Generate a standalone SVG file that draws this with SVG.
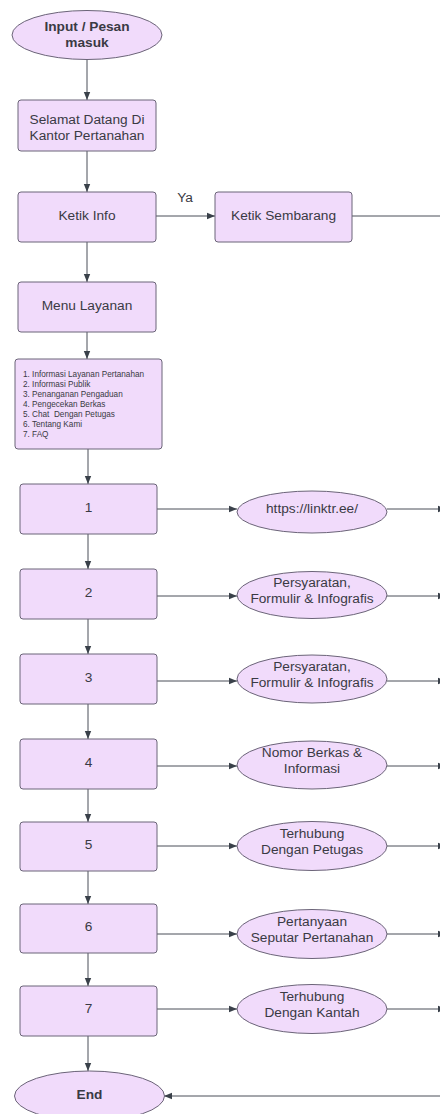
<svg xmlns="http://www.w3.org/2000/svg" width="440" height="1114" viewBox="0 0 440 1114">
<defs>
<marker id="ah" viewBox="0 0 10 10" refX="10" refY="5" markerWidth="8" markerHeight="8" markerUnits="userSpaceOnUse" orient="auto">
<path d="M0,1 L10,5 L0,9 Z" fill="#3a414a"/>
</marker>
<style>
.n{fill:#f1dbfb;stroke:#6b6478;stroke-width:1}
.t{font-family:"Liberation Sans",Arial,sans-serif;font-size:13.7px;fill:#3a3a44;text-anchor:middle}
.b{font-weight:bold}
.s{font-family:"Liberation Sans",Arial,sans-serif;font-size:8.2px;fill:#3a3a44}
.c{stroke:#4a4f58;stroke-width:1;fill:none}
.ca{marker-end:url(#ah)}
</style>
</defs>
<rect width="440" height="1114" fill="#ffffff"/>
<g id="connectors">
<path class="c ca" d="M87,59 V100"/>
<path class="c ca" d="M87,151 V192"/>
<path class="c ca" d="M156,216 H215"/>
<path class="c" d="M352,216 H440"/>
<path class="c ca" d="M87,242 V282"/>
<path class="c ca" d="M87,332 V359"/>
<path class="c ca" d="M88,449 V484"/>
<path class="c ca" d="M88,534 V569"/>
<path class="c ca" d="M88,619 V654"/>
<path class="c ca" d="M88,704 V739"/>
<path class="c ca" d="M88,789 V822"/>
<path class="c ca" d="M88,871 V904"/>
<path class="c ca" d="M88,953 V986"/>
<path class="c ca" d="M88,1036 V1071"/>
<path class="c ca" d="M157,509 H237"/>
<path class="c ca" d="M157,596 H237"/>
<path class="c ca" d="M157,681 H237"/>
<path class="c ca" d="M157,766 H237"/>
<path class="c ca" d="M157,846 H237"/>
<path class="c ca" d="M157,934 H237"/>
<path class="c ca" d="M157,1009 H237"/>
<path class="c ca" d="M387,509 H446"/>
<path class="c ca" d="M387,596 H446"/>
<path class="c ca" d="M387,681 H446"/>
<path class="c ca" d="M387,766 H446"/>
<path class="c ca" d="M387,846 H446"/>
<path class="c ca" d="M387,934 H446"/>
<path class="c ca" d="M387,1009 H446"/>
<path class="c ca" d="M440,1096 H164"/>
<text class="t" x="185" y="202">Ya</text>
</g>
<g id="start"><ellipse class="n" cx="87" cy="35" rx="75" ry="24.5"/>
<text class="t b" x="87" y="31">Input / Pesan</text><text class="t b" x="87" y="47">masuk</text></g>
<g id="welcome"><rect class="n" x="18" y="100" width="138" height="51" rx="3"/>
<text class="t" x="87" y="124">Selamat Datang Di</text><text class="t" x="87" y="140">Kantor Pertanahan</text></g>
<g id="ketik-info"><rect class="n" x="18" y="192" width="138" height="50" rx="3"/>
<text class="t" x="87" y="219.5">Ketik Info</text></g>
<g id="ketik-sembarang"><rect class="n" x="215" y="192" width="137" height="50" rx="3"/>
<text class="t" x="283.5" y="219.5">Ketik Sembarang</text></g>
<g id="menu"><rect class="n" x="18" y="282" width="138" height="50" rx="3"/>
<text class="t" x="87" y="310">Menu Layanan</text></g>
<g id="list"><rect class="n" x="15" y="359" width="147" height="90" rx="3"/>
<text class="s" x="23" y="377">1. Informasi Layanan Pertanahan</text>
<text class="s" x="23" y="387">2. Informasi Publik</text>
<text class="s" x="23" y="397">3. Penanganan Pengaduan</text>
<text class="s" x="23" y="407">4. Pengecekan Berkas</text>
<text class="s" x="23" y="417" xml:space="preserve">5. Chat  Dengan Petugas</text>
<text class="s" x="23" y="426.5">6. Tentang Kami</text>
<text class="s" x="23" y="436.5">7. FAQ</text></g>
<g id="opt1"><rect class="n" x="20" y="484" width="137" height="50" rx="3"/><text class="t" x="88.5" y="512">1</text></g>
<g id="opt2"><rect class="n" x="20" y="569" width="137" height="50" rx="3"/><text class="t" x="88.5" y="597">2</text></g>
<g id="opt3"><rect class="n" x="20" y="654" width="137" height="50" rx="3"/><text class="t" x="88.5" y="682">3</text></g>
<g id="opt4"><rect class="n" x="20" y="739" width="137" height="50" rx="3"/><text class="t" x="88.5" y="767">4</text></g>
<g id="opt5"><rect class="n" x="20" y="822" width="137" height="49" rx="3"/><text class="t" x="88.5" y="849">5</text></g>
<g id="opt6"><rect class="n" x="20" y="904" width="137" height="49" rx="3"/><text class="t" x="88.5" y="931">6</text></g>
<g id="opt7"><rect class="n" x="20" y="986" width="137" height="50" rx="3"/><text class="t" x="88.5" y="1013">7</text></g>
<g id="res1"><ellipse class="n" cx="312" cy="512" rx="75" ry="21"/><text class="t" x="312" y="513">https://linktr.ee/</text></g>
<g id="res2"><ellipse class="n" cx="312" cy="595" rx="75" ry="23.5"/><text class="t" x="312" y="587">Persyaratan,</text><text class="t" x="312" y="603">Formulir &amp; Infografis</text></g>
<g id="res3"><ellipse class="n" cx="312" cy="679" rx="75" ry="24"/><text class="t" x="312" y="671">Persyaratan,</text><text class="t" x="312" y="687">Formulir &amp; Infografis</text></g>
<g id="res4"><ellipse class="n" cx="312" cy="765" rx="75" ry="24"/><text class="t" x="312" y="757">Nomor Berkas &amp;</text><text class="t" x="312" y="773">Informasi</text></g>
<g id="res5"><ellipse class="n" cx="312" cy="846" rx="75" ry="24.5"/><text class="t" x="312" y="838">Terhubung</text><text class="t" x="312" y="854">Dengan Petugas</text></g>
<g id="res6"><ellipse class="n" cx="312" cy="934" rx="75" ry="24.5"/><text class="t" x="312" y="926">Pertanyaan</text><text class="t" x="312" y="942">Seputar Pertanahan</text></g>
<g id="res7"><ellipse class="n" cx="312" cy="1009" rx="75" ry="24.5"/><text class="t" x="312" y="1001">Terhubung</text><text class="t" x="312" y="1017">Dengan Kantah</text></g>
<g id="end"><ellipse class="n" cx="89.5" cy="1096" rx="75" ry="25"/><text class="t b" x="89.5" y="1099">End</text></g>
</svg>
